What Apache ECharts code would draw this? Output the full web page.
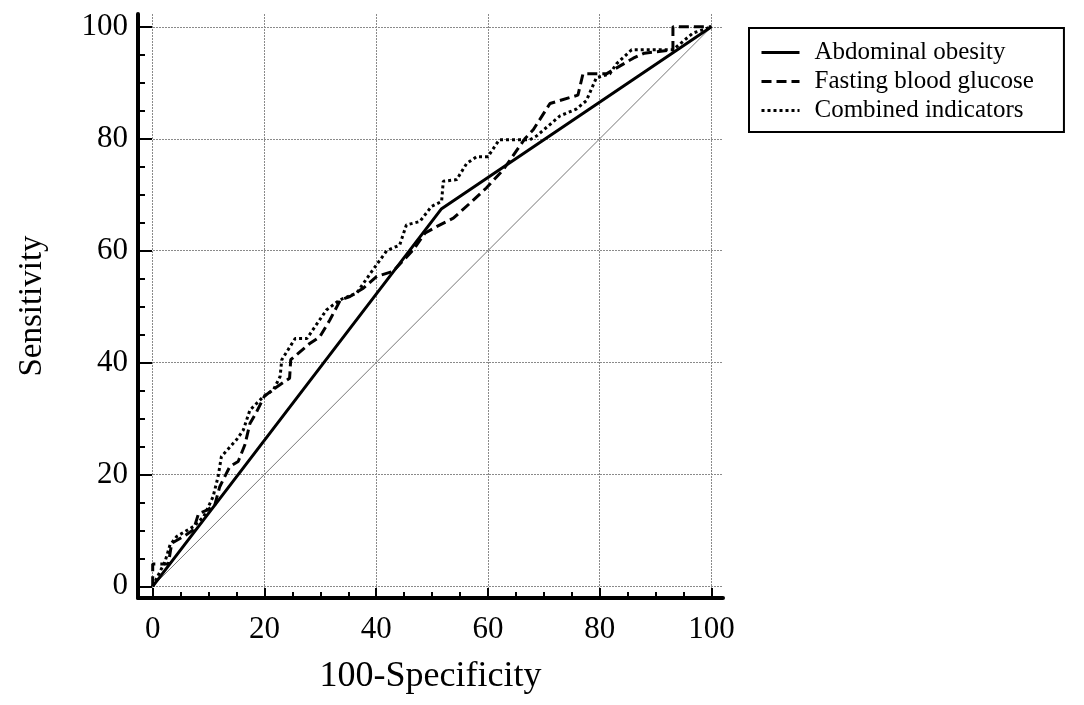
<!DOCTYPE html>
<html>
<head>
<meta charset="utf-8">
<script src="https://cdn.jsdelivr.net/npm/echarts@6/dist/echarts.min.js"></script>
<style>
  html, body { margin: 0; padding: 0; background: #fff; }
  #chart { width: 1084px; height: 705px; }
</style>
</head>
<body>
<div id="chart"></div>
<script>
// tick values
var majorTicks = [0, 20, 40, 60, 80, 100];
var minorTicks = [5, 10, 15, 25, 30, 35, 45, 50, 55, 65, 70, 75, 85, 90, 95];

// series names
var seriesNames = ['Abdominal obesity', 'Fasting blood glucose', 'Combined indicators'];

// [100-specificity, sensitivity]
var abdominal = [[0, 0], [51.7, 67.5], [100, 100]];

var glucose = [
  [0, 0], [0, 4], [2.8, 4], [3.4, 7.7], [5.5, 8.9], [7.3, 10.1], [8.2, 13], [9.7, 13.6],
  [11.1, 14.5], [12, 17.8], [13.8, 21.4], [15.3, 22.3], [16.5, 25.3], [17.4, 29.1],
  [18.5, 31], [20, 34], [22, 35.5], [24.5, 37.2], [24.7, 40.5], [28.1, 43.4], [29.9, 44.6],
  [31.7, 47.6], [33.6, 51.2], [35.3, 51.8], [37.7, 53.3], [40.1, 55.4], [43, 56.3],
  [46.6, 60.1], [48.7, 63.1], [50.8, 64.3], [53.8, 65.8], [56.8, 68.5], [59.7, 71.2],
  [62.7, 74.4], [66.6, 80], [68.1, 81.6], [71.1, 86.3], [76.1, 87.8], [77, 91.6],
  [81.2, 91.6], [84.8, 93.7], [86, 94.4], [88, 95.3], [93.1, 95.9], [93.1, 100], [100, 100]
];

var combined = [
  [0, 0], [1, 2], [2.2, 4.4], [3.1, 7.4], [4.3, 8.9], [7.3, 10.7], [9.1, 12.4], [10.8, 16],
  [11.7, 19.6], [12.3, 23.2], [15, 26.2], [16.2, 27.9], [17.4, 31.5], [19.8, 33.9],
  [21.6, 35.1], [22.8, 37.5], [23.1, 40.5], [25.5, 44.3], [27.6, 44.3], [31.1, 49.4],
  [33.5, 51.2], [36.5, 52.4], [39, 56], [41.9, 60], [44.2, 61], [45.4, 64.6], [47.8, 65.2],
  [49.9, 67.9], [51.7, 68.8], [52, 72.4], [54.4, 72.7], [56.2, 75.6], [58, 76.8], [60, 76.8],
  [62, 79.8], [67.5, 79.8], [68.7, 80.5], [72.9, 84.1], [75.8, 85.3], [77.6, 86.8],
  [79.4, 90.9], [81.8, 91.6], [83, 93.4], [85.7, 95.9], [93.1, 95.9], [94.9, 97.4],
  [96.7, 98.9], [100, 100]
];

// chance line
var diagonal = [[0, 0], [100, 100]];

var FONT = 'Liberation Serif';
var xMin = -2.63, xMax = 102.06;
var yMin = -2.09, yMax = 102.3;

var myChart = echarts.init(document.getElementById('chart'));

var option = {
  animation: false,
  backgroundColor: '#fff',
  grid: { left: 138, top: 14, width: 585, height: 584 },
  legend: {
    data: seriesNames,
    orient: 'vertical',
    left: 749,
    top: 28,
    padding: [12, 30, 9, 11],
    itemGap: 4,
    itemWidth: 38,
    itemHeight: 14,
    itemStyle: { opacity: 0 },
    lineStyle: { width: 3 },
    borderColor: '#000',
    borderWidth: 2,
    textStyle: { fontFamily: FONT, fontSize: 25, color: '#000', padding: [0, 0, 0, 10] }
  },
  xAxis: [{
    type: 'value',
    min: xMin,
    max: xMax,
    position: 'bottom',
    name: '100-Specificity',
    nameLocation: 'middle',
    nameGap: 61,
    nameTextStyle: { fontFamily: FONT, fontSize: 36, color: '#000' },
    axisLine: { show: true, onZero: false, lineStyle: { color: '#000', width: 4 } },
    axisTick: { show: true, inside: true, length: 10, customValues: majorTicks,
      lineStyle: { color: '#000', width: 2 } },
    axisLabel: { customValues: majorTicks, margin: 16, fontFamily: FONT, fontSize: 31, color: '#000' },
    splitLine: { show: true, lineStyle: { color: '#8a8a8a', width: 1, type: [2, 1] } }
  }, {
    type: 'value',
    min: xMin,
    max: xMax,
    position: 'bottom',
    axisLine: { show: false, onZero: false },
    axisTick: { show: true, inside: true, length: 6, customValues: minorTicks,
      lineStyle: { color: '#000', width: 2 } },
    axisLabel: { show: false },
    splitLine: { show: false }
  }],
  yAxis: [{
    type: 'value',
    min: yMin,
    max: yMax,
    position: 'left',
    name: 'Sensitivity',
    nameLocation: 'middle',
    nameGap: 89,
    nameTextStyle: { fontFamily: FONT, fontSize: 33, color: '#000' },
    axisLine: { show: true, onZero: false, lineStyle: { color: '#000', width: 4 } },
    axisTick: { show: true, inside: true, length: 14, customValues: majorTicks,
      lineStyle: { color: '#000', width: 2 } },
    axisLabel: { customValues: majorTicks, margin: 10, fontFamily: FONT, fontSize: 31, color: '#000' },
    splitLine: { show: true, lineStyle: { color: '#8a8a8a', width: 1, type: [2, 1] } }
  }, {
    type: 'value',
    min: yMin,
    max: yMax,
    position: 'left',
    axisLine: { show: false, onZero: false },
    axisTick: { show: true, inside: true, length: 7, customValues: minorTicks,
      lineStyle: { color: '#000', width: 2 } },
    axisLabel: { show: false },
    splitLine: { show: false }
  }],
  series: [
    {
      name: 'diagonal',
      type: 'line',
      data: diagonal,
      symbol: 'none',
      silent: true,
      lineStyle: { color: '#777', width: 1 }
    },
    {
      name: seriesNames[0],
      type: 'line',
      data: abdominal,
      symbol: 'none',
      itemStyle: { color: '#000' },
      lineStyle: { color: '#000', width: 3 }
    },
    {
      name: seriesNames[1],
      type: 'line',
      data: glucose,
      symbol: 'none',
      itemStyle: { color: '#000' },
      lineStyle: { color: '#000', width: 3, type: [10, 5] }
    },
    {
      name: seriesNames[2],
      type: 'line',
      data: combined,
      symbol: 'none',
      itemStyle: { color: '#000' },
      lineStyle: { color: '#000', width: 3, type: [3, 3] }
    }
  ]
};

myChart.setOption(option);
</script>
</body>
</html>
